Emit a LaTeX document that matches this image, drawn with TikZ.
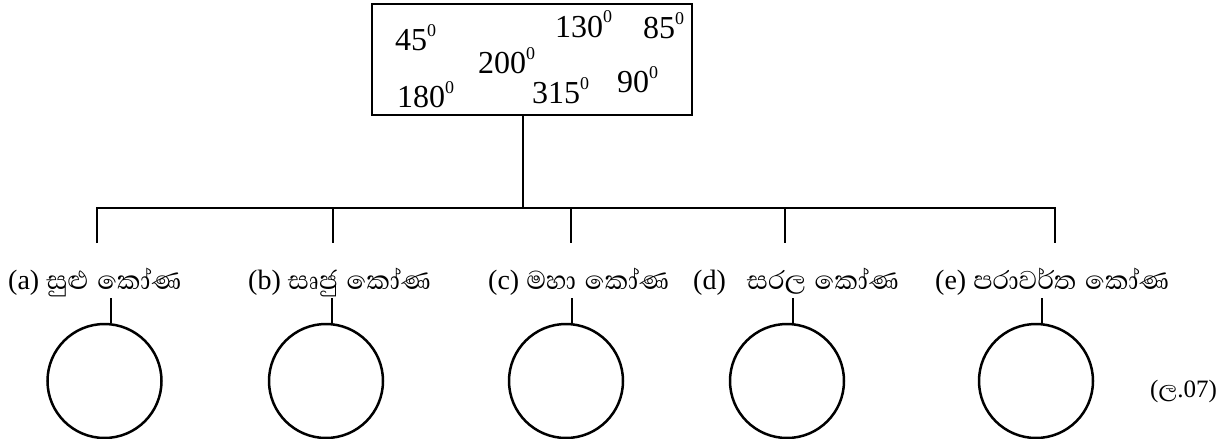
\documentclass[tikz,border=0pt]{standalone}
\usepackage{fontspec}
\setmainfont{Liberation Serif}
\newfontfamily\sinhfont[Script=Sinhala,Scale=1.18,WordSpace=1.4]{Abhaya Libre}
\newcommand{\degz}{\raisebox{14pt}{\fontsize{18}{18}\selectfont 0}}
\begin{document}
\begin{tikzpicture}[x=1pt,y=-1pt,
  ln/.style={line width=2.5pt},
  num/.style={anchor=base west,inner sep=0pt,font=\fontsize{32}{36}\selectfont},
  lab/.style={anchor=base west,inner sep=0pt,font=\fontsize{28}{34}\selectfont},
  ring/.style={circle,draw,line width=2.5pt,minimum size=114pt,inner sep=0pt}]
\useasboundingbox (0,0) rectangle (1232,439);
% top box
\node[draw,line width=2.5pt,minimum width=320pt,minimum height=111pt,inner sep=0pt] (box) at (532,59.5) {};
\node[num] (n45) at (395,50) {45\degz};
\node[num] (n130) at (555,37) {130\degz};
\node[num] (n85) at (643,38) {85\degz};
\node[num] (n200) at (478,73) {200\degz};
\node[num] (n90) at (617,92) {90\degz};
\node[num] (n180) at (397,107) {180\degz};
\node[num] (n315) at (532,103) {315\degz};
% tree
\coordinate (j) at (523,208);
\draw[ln] (j |- box.south) -- (j);
\coordinate (ta) at (97,208);  \coordinate (ba) at (97,243);
\coordinate (tb) at (333,208); \coordinate (bb) at (333,243);
\coordinate (tc) at (571,208); \coordinate (bc) at (571,243);
\coordinate (td) at (785,208); \coordinate (bd) at (785,243);
\coordinate (te) at (1055,208); \coordinate (be) at (1055,243);
\draw[ln] (ba) -- (ta) -- (te) -- (be);
\draw[ln] (tb) -- (bb);
\draw[ln] (tc) -- (bc);
\draw[ln] (td) -- (bd);
% labels
\node[lab] (la) at (8,289) {(a) {\sinhfont සුළු කෝණ}};
\node[lab] (lb) at (248,289) {(b) {\sinhfont සෘජු කෝණ}};
\node[lab] (lc) at (488,289) {(c) {\sinhfont මහා කෝණ}};
\node[lab] (ld) at (693,289) {(d)\hspace{14pt} {\sinhfont සරල කෝණ}};
\node[lab] (le) at (935,289) {(e) {\sinhfont පරාවර්ත කෝණ}};
% circles
\node[ring] (ca) at (104.5,381) {};
\node[ring] (cb) at (326,381) {};
\node[ring] (cc) at (566,381) {};
\node[ring] (cd) at (787,381) {};
\node[ring] (ce) at (1036,381) {};
\coordinate (sa) at (111,298);
\coordinate (sb) at (332,298);
\coordinate (sc) at (572,298);
\coordinate (sd) at (793,298);
\coordinate (se) at (1042,298);
\draw[ln] (sa) -- (sa |- ca.north);
\draw[ln] (sb) -- (sb |- cb.north);
\draw[ln] (sc) -- (sc |- cc.north);
\draw[ln] (sd) -- (sd |- cd.north);
\draw[ln] (se) -- (se |- ce.north);
\node[anchor=base west,inner sep=0pt,font=\fontsize{25}{28}\selectfont] (ref) at (1150,397) {({\sinhfont ල}.07)};
\end{tikzpicture}
\end{document}
